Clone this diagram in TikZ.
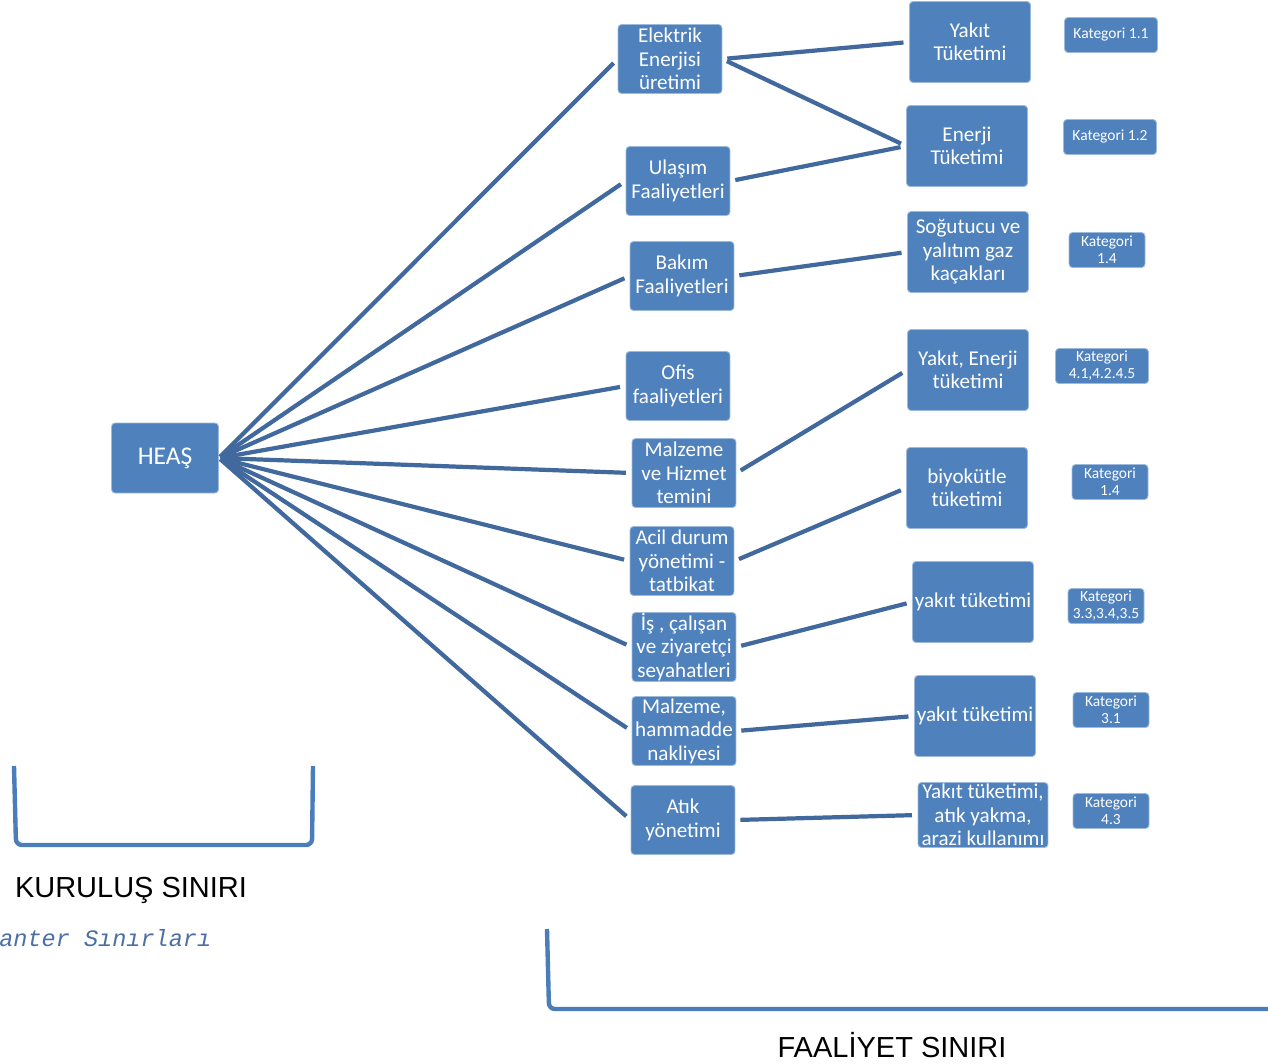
\documentclass[tikz,border=0pt]{standalone}
\usepackage{fontspec}
\setmainfont{Carlito}
\newfontfamily\arialfont{Liberation Sans}
\newfontfamily\courierfont{Liberation Mono}
\definecolor{boxblue}{HTML}{4F81BD}
\definecolor{lineblue}{HTML}{41699D}
\definecolor{sinirblue}{HTML}{4A7EBB}
\definecolor{notblue}{HTML}{4A6FA5}
\tikzset{
  box/.style={fill=boxblue, draw=boxblue!55!white, line width=0.5pt, rounded corners=2pt,
    text=white, align=center, inner sep=0pt},
  heasbox/.style={box, minimum width=2.14cm, minimum height=1.4cm, font=\fontsize{14.5}{16}\selectfont},
  midbox/.style={box, minimum width=2.08cm, minimum height=1.38cm, font=\fontsize{12}{13.3}\selectfont},
  tukbox/.style={box, minimum width=2.42cm, minimum height=1.62cm, font=\fontsize{12}{13.3}\selectfont},
  katbox/.style={box, minimum width=1.52cm, minimum height=0.7cm, font=\fontsize{8.8}{9.8}\selectfont},
  link/.style={lineblue, line width=2.4pt, shorten <=1pt, shorten >=3.2pt},
  midlink/.style={link, shorten <=2.8pt},
  sinir/.style={sinirblue, line width=2.5pt, rounded corners=0.12cm},
  baslik/.style={font=\arialfont\fontsize{16.5}{18}\selectfont, anchor=base}
}
\begin{document}
\begin{tikzpicture}[x=0.02cm,y=-0.02cm]
\useasboundingbox (0,0) rectangle (1268,1063);
\node[heasbox] (heas) at (165,458) {HEAŞ};
% faaliyetler
\node[midbox] (elektrik) at (670,59) {Elektrik\\Enerjisi\\üretimi};
\node[midbox] (ulasim) at (678,181) {Ulaşım\\Faaliyetleri};
\node[midbox] (bakim) at (682,276) {Bakım\\Faaliyetleri};
\node[midbox] (ofis) at (678,386) {Ofis\\faaliyetleri};
\node[midbox] (malzeme) at (684,473) {Malzeme\\ve Hizmet\\temini};
\node[midbox] (acil) at (682,561) {Acil durum\\yönetimi -\\tatbikat};
\node[midbox] (seyahat) at (684,647) {İş , çalışan\\ve ziyaretçi\\seyahatleri};
\node[midbox] (nakliye) at (684,731) {Malzeme,\\hammadde\\nakliyesi};
\node[midbox] (atik) at (683,820) {Atık\\yönetimi};
% tuketimler
\node[tukbox] (yakit) at (970,42) {Yakıt\\Tüketimi};
\node[tukbox] (enerji) at (967,146) {Enerji\\Tüketimi};
\node[tukbox] (sogutucu) at (968,252) {Soğutucu ve\\yalıtım gaz\\kaçakları};
\node[tukbox] (yakitenerji) at (968,370) {Yakıt, Enerji\\tüketimi};
\node[tukbox] (biyokutle) at (967,488) {biyokütle\\tüketimi};
\node[tukbox] (yakitb) at (973,602) {yakıt tüketimi};
\node[tukbox] (yakitc) at (975,716) {yakıt tüketimi};
\node[tukbox, minimum width=2.6cm, minimum height=1.3cm] (atikyakma) at (983,815) {Yakıt tüketimi,\\atık yakma,\\arazi kullanımı};
% kategoriler
\node[katbox, minimum width=1.86cm] (k1) at (1111,35) {Kategori 1.1};
\node[katbox, minimum width=1.86cm] (k2) at (1110,137) {Kategori 1.2};
\node[katbox] (k3) at (1107,250) {Kategori\\1.4};
\node[katbox, minimum width=1.86cm] (k4) at (1102,366) {Kategori\\4.1,4.2.4.5};
\node[katbox] (k5) at (1110,482) {Kategori\\1.4};
\node[katbox] (k6) at (1106,606) {Kategori\\3.3,3.4,3.5};
\node[katbox] (k7) at (1111,710) {Kategori\\3.1};
\node[katbox] (k8) at (1111,811) {Kategori\\4.3};
% baglantilar
\foreach \m in {elektrik,ulasim,bakim,ofis,malzeme,acil,seyahat,nakliye,atik}
  \draw[link] (heas.east) -- (\m.west);
\draw[midlink] (elektrik.east) -- (yakit.west);
\draw[midlink] (elektrik.east) -- (enerji.west);
\draw[midlink] (ulasim.east) -- (enerji.west);
\draw[midlink] (bakim.east) -- (sogutucu.west);
\draw[midlink] (malzeme.east) -- (yakitenerji.west);
\draw[midlink] (acil.east) -- (biyokutle.west);
\draw[midlink] (seyahat.east) -- (yakitb.west);
\draw[midlink] (nakliye.east) -- (yakitc.west);
\draw[midlink] (atik.east) -- (atikyakma.west);
% sinirlar
\draw[sinir] (14,766) -- (16,845) -- (312,845) -- (313,766);
\draw[sinir] (547,929) -- (549,1009) -- (1290,1009);
\node[baslik] (kurulus) at (131,897) {KURULUŞ SINIRI};
\node[baslik] (faaliyet) at (892,1057) {FAALİYET SINIRI};
\node[font=\courierfont\itshape\fontsize{13.4}{15}\selectfont, text=notblue, anchor=base west, inner sep=0pt] (envanter) at (-1,946) {anter Sınırları};
\end{tikzpicture}
\end{document}
